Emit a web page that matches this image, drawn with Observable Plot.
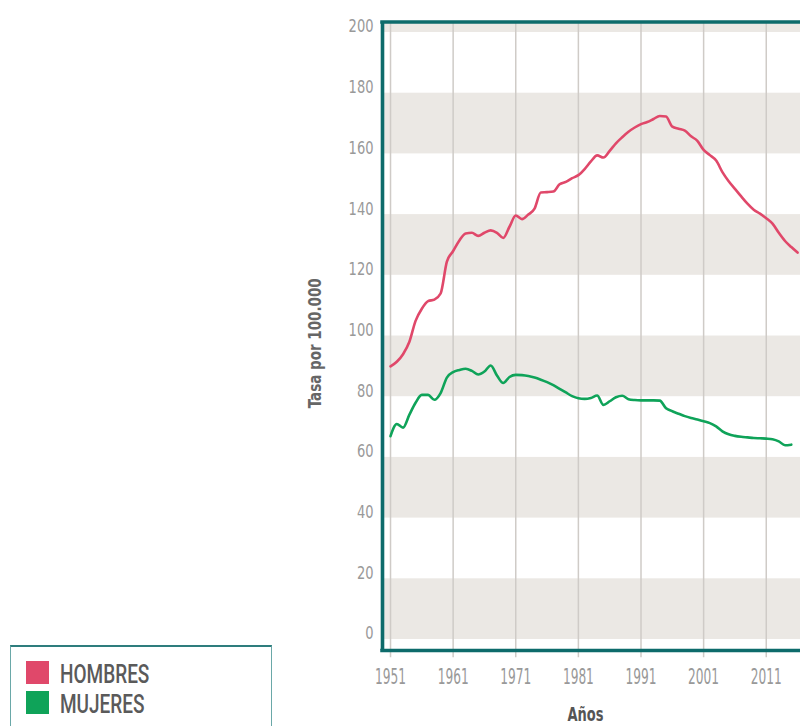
<!DOCTYPE html>
<html>
<head>
<meta charset="utf-8">
<script src="https://cdn.jsdelivr.net/npm/d3@7"></script>
<script src="https://cdn.jsdelivr.net/npm/@observablehq/plot@0.6"></script>
<style>
  html, body { margin: 0; padding: 0; background: #fff; }
  #wrap { position: relative; width: 800px; height: 726px; overflow: hidden; }
  #chart { position: absolute; left: 0; top: 0; }
  #legend {
    position: absolute; left: 10px; top: 645px; width: 260px; height: 100px;
    border: 1.5px solid #6aa8a8; border-top: 2px solid #2e7d7d; background: #fff;
    font-family: "Roboto", "DejaVu Sans Condensed", sans-serif;
  }
  .item { position: absolute; left: 15px; height: 23px; }
  .sw { position: absolute; left: 0; top: 0; width: 23px; height: 23px; }
  .lab { position: absolute; left: 34px; top: -1px; font-size: 25px; font-weight: 500; color: #5a5a5a;
         white-space: nowrap; display: inline-block; transform: scaleX(0.76); transform-origin: 0 50%; }
</style>
</head>
<body>
<div id="wrap">
  <div id="chart"></div>
  <div id="legend">
    <div class="item" style="top:14px"><div class="sw" style="background:#e0486a"></div><span class="lab">HOMBRES</span></div>
    <div class="item" style="top:44px"><div class="sw" style="background:#0fa359"></div><span class="lab">MUJERES</span></div>
  </div>
</div>
<script>
const years = [1951,1952,1953,1954,1955,1956,1957,1958,1959,1960,
  1961,1962,1963,1964,1965,1966,1967,1968,1969,1970,
  1971,1972,1973,1974,1975,1976,1977,1978,1979,1980,
  1981,1982,1983,1984,1985,1986,1987,1988,1989,1990,
  1991,1992,1993,1994,1995,1996,1997,1998,1999,2000,
  2001,2002,2003,2004,2005,2006,2007,2008,2009,2010,
  2011,2012,2013,2014,2015,2016];
const hombres = [90.0,91.5,94,98,105,109,111.5,112,114,124.5,
  128,131.5,133.8,134,133,134,134.8,134,132.3,136,
  139.7,138.5,140,142,147.3,147.4,147.6,150,150.8,152,
  153,155,157.5,159.5,158.8,161,163.5,165.5,167.3,168.7,
  169.8,170.5,171.5,172.5,172.3,169,168.3,167.7,165.8,164.3,
  161.3,159.6,157.8,154,151,148.5,146,143.6,141.6,140.3,
  138.8,137,134,131.3,129.3,127.5];
const mujeres = [67,71,69.8,74,78,80.6,80.6,79,81.2,86.3,
  88.1,88.8,89.2,88.5,87.3,88.3,90.3,87,84.5,86.5,
  87.2,87.1,86.8,86.3,85.6,84.8,83.8,82.6,81.4,80.2,
  79.5,79.3,79.6,80.4,77.3,78.5,79.8,80.3,79.2,78.9,
  78.8,78.8,78.8,78.7,76.2,75.2,74.4,73.6,73,72.5,
  71.9,71.3,70.2,68.6,67.6,67.1,66.8,66.6,66.4,66.3,
  66.2,66,65.3,64,64.2];
const xTicks = [1951,1961,1971,1981,1991,2001,2011];
const yTicks = [0,20,40,60,80,100,120,140,160,180,200];
const bandStarts = [0,40,80,120,160,200];
const yLabel = "Tasa por 100.000";
const xLabel = "Años";

const xMin = 1949.72, xMax = 2016.47;
const yMin = -3.62, yMax = 203.46;

const menData = years.map((y, i) => ({year: y, v: hombres[i]}));
const womenData = years.slice(0, mujeres.length).map((y, i) => ({year: y, v: mujeres[i]}));
const teal = "#0d6b6b";

const plot = Plot.plot({
  width: 800,
  height: 726,
  marginLeft: 382,
  marginRight: 0,
  marginTop: 21.5,
  marginBottom: 76,
  style: {fontFamily: '"DejaVu Sans Condensed", "DejaVu Sans", sans-serif', background: "#fff"},
  x: {domain: [xMin, xMax], axis: null},
  y: {domain: [yMin, yMax], axis: null},
  marks: [
    Plot.rect(bandStarts, {x1: xMin, x2: xMax, y1: d => d, y2: d => Math.min(d + 20, yMax), fill: "#ebe8e4"}),
    Plot.ruleX(xTicks, {x: d => d, y1: -6, y2: yMax, stroke: "#cfcbc7", strokeWidth: 1.5}),
    Plot.line(menData, {x: "year", y: "v", stroke: "#e0486a", strokeWidth: 2.6, curve: "monotone-x"}),
    Plot.line(womenData, {x: "year", y: "v", stroke: "#0fa359", strokeWidth: 2.6, curve: "monotone-x"}),
    Plot.ruleX([xMin], {y1: yMin, y2: yMax, stroke: teal, strokeWidth: 3.6}),
    Plot.ruleY([yMin, yMax], {x1: xMin - 0.28, x2: xMax, stroke: teal, strokeWidth: 3.4}),
    Plot.text(yTicks, {x: xMin, y: d => d, text: d => String(d), textAnchor: "end", dx: -9, dy: -5.5, fontSize: 17, fill: "#999", className: "ytick"}),
    Plot.text(xTicks, {x: d => d, y: yMin, text: d => String(d), dy: 27, fontSize: 20.5, fill: "#999", className: "xtick"}),
    Plot.text([yLabel], {frameAnchor: "left", textAnchor: "middle", rotate: -90, dx: -67, dy: 7, fontSize: 17, fontWeight: "bold", fill: "#666", className: "ylab"}),
    Plot.text([xLabel], {frameAnchor: "bottom", dx: -6, dy: 70, fontSize: 19, fontWeight: "bold", fill: "#555", className: "xlab"})
  ]
});
const svg = d3.select(plot);
svg.selectAll(".ytick text").each(function() {
  const n = this.textContent.length;
  d3.select(this).attr("textLength", 8.3 * n).attr("lengthAdjust", "spacingAndGlyphs");
});
svg.selectAll(".xtick text").attr("textLength", 31).attr("lengthAdjust", "spacingAndGlyphs");
svg.selectAll(".ylab text").attr("textLength", 130).attr("lengthAdjust", "spacingAndGlyphs");
svg.selectAll(".xlab text").attr("textLength", 36).attr("lengthAdjust", "spacingAndGlyphs");
document.getElementById("chart").appendChild(plot);
</script>
</body>
</html>
